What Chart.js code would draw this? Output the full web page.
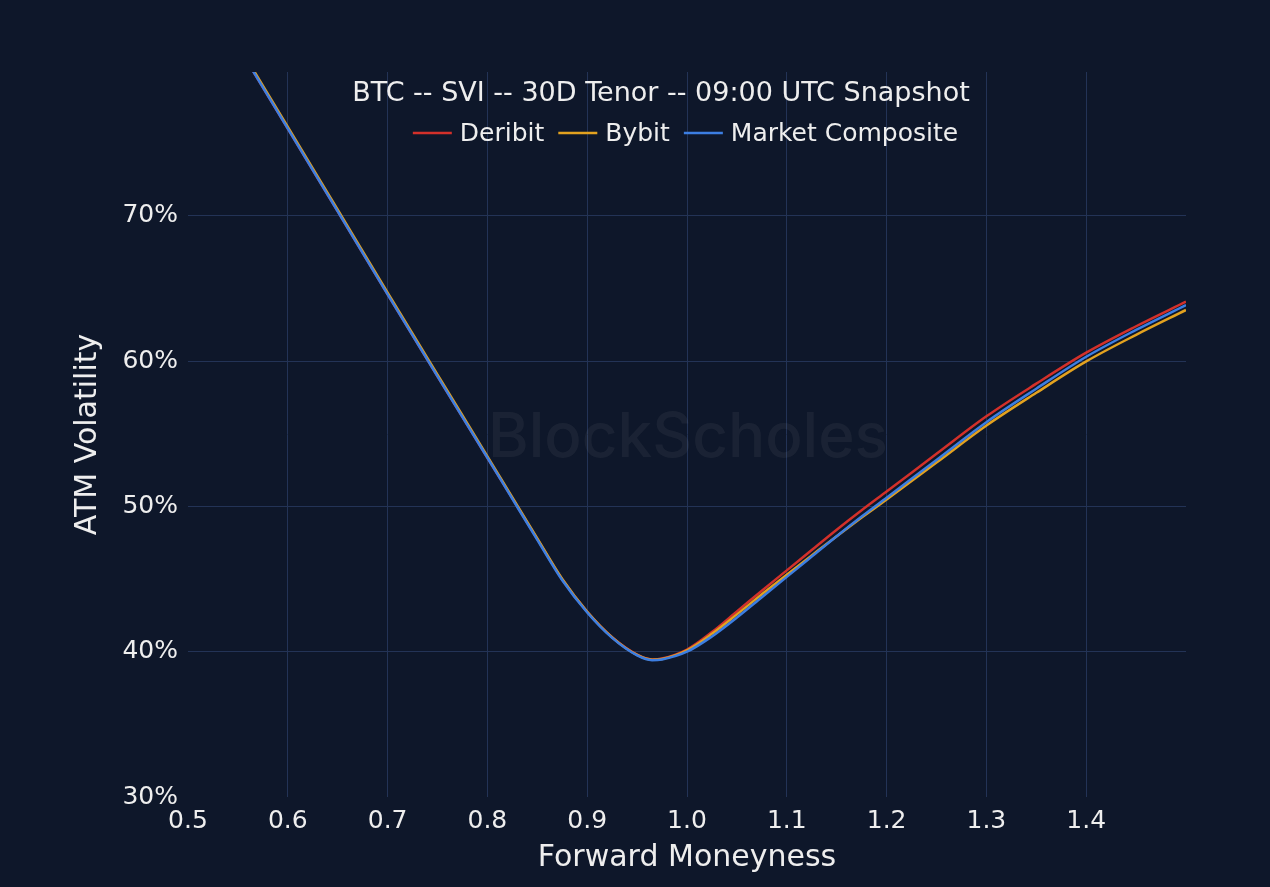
<!DOCTYPE html>
<html><head><meta charset="utf-8">
<script src="https://cdn.jsdelivr.net/npm/chart.js@4.4.1/dist/chart.umd.min.js"></script>
<style>html,body{margin:0;padding:0;background:#0e172a;overflow:hidden}canvas{display:block}</style>
</head><body>
<canvas id="c" width="1270" height="887" style="width:1270px;height:887px"></canvas>
<script>
const titleText = 'BTC -- SVI -- 30D Tenor -- 09:00 UTC Snapshot';
const xAxisTitle = 'Forward Moneyness';
const yAxisTitle = 'ATM Volatility';
const watermarkText = 'BlockScholes';
const seriesNames = ['Deribit', 'Bybit', 'Market Composite'];
const moneyness = [0.56, 0.6, 0.65, 0.7, 0.75, 0.8, 0.825, 0.85, 0.875, 0.9, 0.925, 0.95, 0.965, 0.975, 1.0, 1.025, 1.05, 1.075, 1.1, 1.125, 1.15, 1.175, 1.2, 1.25, 1.3, 1.35, 1.4, 1.45, 1.5];
const deribit   = [80.55, 76.0, 70.3, 64.6, 58.95, 53.35, 50.55, 47.75, 44.97, 42.75, 41.0, 39.8, 39.47, 39.53, 40.15, 41.35, 42.77, 44.2, 45.6, 47.0, 48.4, 49.74, 51.03, 53.62, 56.2, 58.45, 60.58, 62.4, 64.09];
const bybit     = [80.67, 76.12, 70.42, 64.72, 59.07, 53.45, 50.62, 47.8, 45.0, 42.75, 40.99, 39.78, 39.45, 39.5, 40.1, 41.23, 42.57, 43.95, 45.3, 46.63, 47.95, 49.23, 50.48, 53.02, 55.57, 57.82, 59.98, 61.81, 63.52];
const composite = [80.55, 76.0, 70.3, 64.6, 58.95, 53.35, 50.52, 47.7, 44.92, 42.7, 40.95, 39.75, 39.42, 39.47, 40.0, 41.05, 42.35, 43.75, 45.15, 46.55, 47.95, 49.3, 50.6, 53.2, 55.8, 58.1, 60.3, 62.15, 63.86];
const xTicks = [0.5, 0.6, 0.7, 0.8, 0.9, 1.0, 1.1, 1.2, 1.3, 1.4];
const yTicks = [30, 40, 50, 60, 70];

const BG = '#0e172a';
const GRID = '#233356';
const TEXT = '#eeeeee';
const COLORS = ['#d3302a', '#e3a21f', '#3c7ee2'];
const FONT = 'DejaVu Sans';

function pts(vals){ return moneyness.map((x,i)=>({x:x, y:vals[i]})); }

const bgPlugin = {
  id:'bg',
  beforeDraw(chart){ const c=chart.ctx; c.save(); c.fillStyle=BG; c.fillRect(0,0,chart.width,chart.height); c.restore(); }
};
const watermarkPlugin = {
  id:'wm',
  beforeDatasetsDraw(chart){
    const c=chart.ctx, a=chart.chartArea; c.save();
    let size=56; c.font='500 '+size+'px Inter';
    const w=c.measureText(watermarkText).width; size=size*400/w;
    c.font='500 '+size+'px Inter';
    c.fillStyle='rgba(150,150,150,0.09)'; c.textAlign='center'; c.textBaseline='middle';
    c.fillText(watermarkText,(a.left+a.right)/2+1,438);
    c.restore();
  }
};
const overlayPlugin = {
  id:'overlay',
  afterDraw(chart){
    const c=chart.ctx; c.save();
    c.fillStyle=TEXT; c.font='27px "'+FONT+'"'; c.textAlign='center'; c.textBaseline='middle';
    c.fillText(titleText, 661, 94);
    // legend
    c.font='25px "'+FONT+'"'; c.textAlign='left';
    const lineLen=39, gap1=8, gap2=14;
    const ds=chart.data.datasets;
    let total=0; ds.forEach((d,i)=>{ total+=lineLen+gap1+c.measureText(d.label).width + (i<ds.length-1?gap2:0); });
    let x=685.5 - total/2; const y=133;
    ds.forEach((d,i)=>{
      c.strokeStyle=d.borderColor; c.lineWidth=2.5; c.beginPath(); c.moveTo(x,y); c.lineTo(x+lineLen,y); c.stroke();
      x+=lineLen+gap1; c.fillStyle=TEXT; c.fillText(d.label,x,y+1);
      x+=c.measureText(d.label).width+gap2;
    });
    c.restore();
  }
};

new Chart(document.getElementById('c'), {
  type:'line',
  data:{ datasets:[
    {label:seriesNames[0], data:pts(deribit), borderColor:COLORS[0], order:2},
    {label:seriesNames[1], data:pts(bybit), borderColor:COLORS[1], order:1},
    {label:seriesNames[2], data:pts(composite), borderColor:COLORS[2], order:0}
  ].map(d=>Object.assign(d,{borderWidth:2.5, pointRadius:0, fill:false, cubicInterpolationMode:'monotone'}))},
  options:{
    responsive:false, animation:false, devicePixelRatio:1,
    layout:{padding:{top:72,right:84,left:0,bottom:0}},
    plugins:{legend:{display:false}, title:{display:false}, tooltip:{enabled:false}},
    scales:{
      x:{type:'linear', min:0.5, max:1.5,
        afterBuildTicks:s=>{ s.ticks = xTicks.map(v=>({value:v})); },
        afterFit:s=>{ s.height=90; },
        ticks:{callback:v=>Number(v).toFixed(1), color:TEXT, font:{family:FONT,size:25}, padding:9, maxRotation:0, autoSkip:false},
        grid:{color:ctx=>(ctx.tick && Math.abs(ctx.tick.value-0.5)<1e-9)?'rgba(0,0,0,0)':GRID, lineWidth:1, drawTicks:false},
        border:{display:false},
        title:{display:true, text:xAxisTitle, color:TEXT, font:{family:FONT,size:30}, padding:{top:0,bottom:11}}
      },
      y:{type:'linear', min:30, max:79.9,
        afterBuildTicks:s=>{ s.ticks = yTicks.map(v=>({value:v})); },
        afterFit:s=>{ s.width=188; },
        ticks:{callback:v=>v+'%', color:TEXT, font:{family:FONT,size:25}, padding:10},
        grid:{color:ctx=>(ctx.tick && ctx.tick.value===30)?'rgba(0,0,0,0)':GRID, lineWidth:1, drawTicks:false},
        border:{display:false},
        title:{display:true, text:yAxisTitle, color:TEXT, font:{family:FONT,size:30}, padding:{top:70,bottom:0}}
      }
    }
  },
  plugins:[bgPlugin, watermarkPlugin, overlayPlugin]
});
</script>
</body></html>
